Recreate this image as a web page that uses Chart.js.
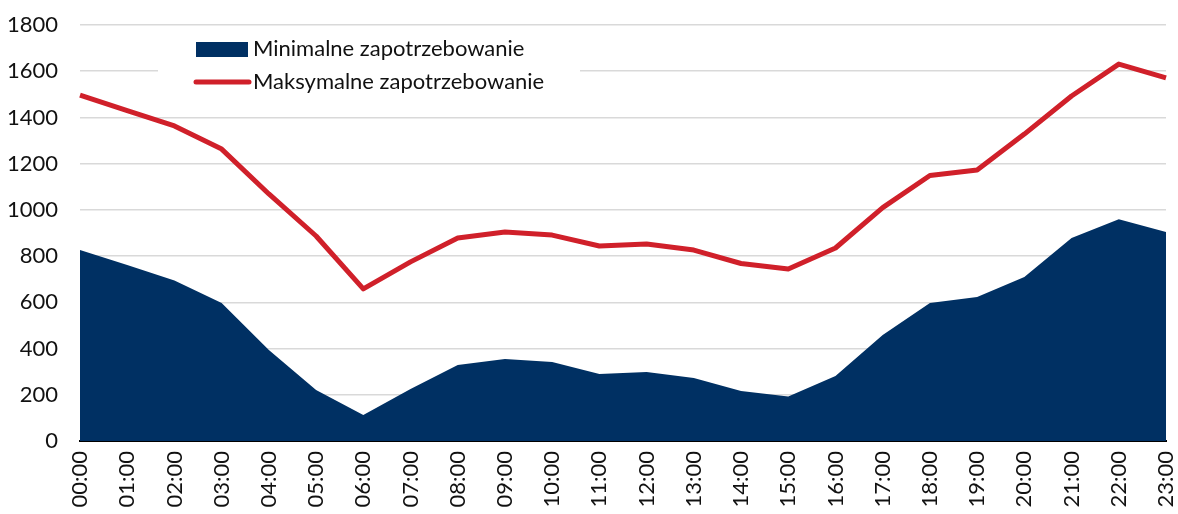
<!DOCTYPE html>
<html>
<head>
<meta charset="utf-8">
<script src="https://cdn.jsdelivr.net/npm/chart.js@4/dist/chart.umd.min.js"></script>
<style>
html,body{margin:0;padding:0;background:#fff;}
#wrap{width:1178px;height:514px;position:relative;}
</style>
</head>
<body>
<div id="wrap"><canvas id="c" width="1178" height="514"></canvas></div>
<script>
const hours = ["00:00","01:00","02:00","03:00","04:00","05:00","06:00","07:00","08:00","09:00","10:00","11:00","12:00","13:00","14:00","15:00","16:00","17:00","18:00","19:00","20:00","21:00","22:00","23:00"];
const minDemand = [826,762,695,597,394,221,112,225,329,355,342,290,299,273,216,193,281,459,597,623,710,878,960,904];
const maxDemand = [1497,1430,1363,1263,1069,887,658,775,878,904,891,844,852,826,768,744,835,1010,1149,1173,1328,1493,1631,1571];
const yTicks = [0,200,400,600,800,1000,1200,1400,1600,1800];
const labelMin = "Minimalne zapotrzebowanie";
const labelMax = "Maksymalne zapotrzebowanie";

const FONT = "Lato";
const BLUE = "#003063";
const RED = "#D0202A";

const legendPlugin = {
  id: 'insideLegend',
  afterDraw(chart) {
    const ctx = chart.ctx;
    ctx.save();
    ctx.fillStyle = '#fff';
    ctx.fillRect(158, 30, 422, 72);
    ctx.fillStyle = BLUE;
    ctx.fillRect(196, 42, 52, 15);
    ctx.strokeStyle = RED;
    ctx.lineWidth = 5;
    ctx.lineCap = 'round';
    ctx.beginPath();
    ctx.moveTo(196, 82);
    ctx.lineTo(249, 82);
    ctx.stroke();
    ctx.fillStyle = '#111';
    ctx.font = '22px ' + FONT;
    ctx.textBaseline = 'middle';
    ctx.textAlign = 'left';
    ctx.fillText(chart.data.datasets[0].label, 253, 49);
    ctx.fillText(chart.data.datasets[1].label, 253, 82);
    ctx.restore();
  }
};

new Chart(document.getElementById('c'), {
  type: 'line',
  data: {
    labels: hours,
    datasets: [
      {
        label: labelMin,
        data: minDemand,
        fill: 'origin',
        backgroundColor: BLUE,
        borderColor: BLUE,
        borderWidth: 0,
        pointRadius: 0,
        tension: 0,
        order: 2
      },
      {
        label: labelMax,
        data: maxDemand,
        fill: false,
        borderColor: RED,
        borderWidth: 5,
        borderJoinStyle: 'round',
        pointRadius: 0,
        tension: 0,
        order: 1
      }
    ]
  },
  options: {
    responsive: false,
    animation: false,
    devicePixelRatio: 1,
    layout: { padding: { top: 25, right: 12, left: 0, bottom: 0 } },
    plugins: { legend: { display: false }, tooltip: { enabled: false } },
    scales: {
      x: {
        offset: false,
        grid: { display: false, drawTicks: false },
        border: { display: true, color: '#000', width: 2 },
        ticks: {
          font: { family: FONT, size: 22 },
          color: '#111',
          maxRotation: 90,
          minRotation: 90,
          autoSkip: false,
          padding: 10
        },
        afterFit(s) { s.height = 73; s.paddingLeft = 0; s.paddingRight = 0; }
      },
      y: {
        min: 0,
        max: 1800,
        afterBuildTicks(s) { s.ticks = yTicks.map(v => ({ value: v })); },
        grid: { color: '#d9d9d9', lineWidth: 1.5, drawTicks: false },
        border: { display: false },
        ticks: {
          font: { family: FONT, size: 22 },
          color: '#111',
          padding: 22,
          callback: (v) => String(v)
        },
        afterFit(s) { s.width = 80; s.paddingTop = 0; s.paddingBottom = 0; }
      }
    }
  },
  plugins: [legendPlugin]
});
</script>
</body>
</html>
